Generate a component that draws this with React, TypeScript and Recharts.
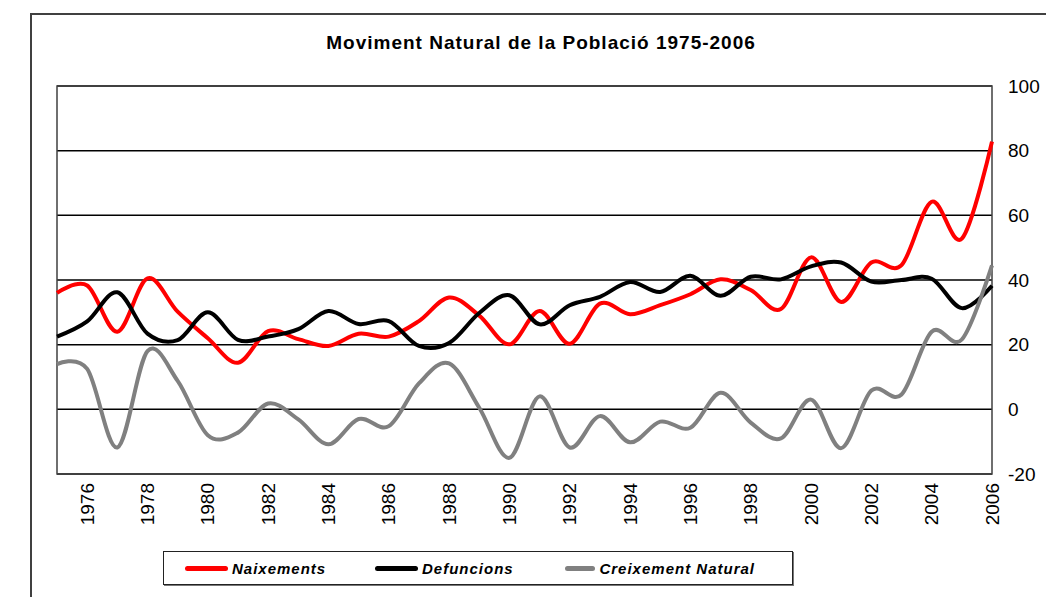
import React from "react";
import { LineChart, Line, XAxis, YAxis, CartesianGrid, Legend, ReferenceArea } from "recharts";

// values per year
const years = [
  1975, 1976, 1977, 1978, 1979, 1980, 1981, 1982, 1983, 1984, 1985, 1986, 1987, 1988, 1989, 1990,
  1991, 1992, 1993, 1994, 1995, 1996, 1997, 1998, 1999, 2000, 2001, 2002, 2003, 2004, 2005, 2006,
];
const naixements = [
  36, 38.3, 24, 40.5, 30.2, 22, 14.4, 24.2, 21.7, 19.6, 23.4, 22.5, 27.3, 34.6, 29, 20.1,
  30.4, 20.3, 32.7, 29.4, 32.2, 35.6, 40.2, 36.9, 31, 47, 33.2, 45.4, 44.6, 64.2, 52.8, 82.8,
];
const defuncions = [
  22.5, 27.2, 36.2, 23.4, 21.4, 30, 21.5, 22.5, 24.8, 30.4, 26.4, 27.3, 19.6, 20.5, 29.8, 35.3,
  26.3, 32.2, 34.8, 39.4, 36.3, 41.3, 35.1, 41, 40.2, 44.2, 45.4, 39.5, 40, 40.4, 31.3, 38.2,
];
const creixement = [
  14, 12.5, -11.8, 18, 8.8, -8, -7.2, 1.8, -3.1, -10.8, -3, -5.2, 8, 14.2, 0.5, -15,
  4, -11.8, -2.1, -10.2, -3.8, -5.7, 5.1, -4.1, -9, 3, -12, 5.8, 4.6, 24, 21.6, 44.5,
];
const yTicks = [-20, 0, 20, 40, 60, 80, 100];
const labelYears = [1976, 1978, 1980, 1982, 1984, 1986, 1988, 1990, 1992, 1994, 1996, 1998, 2000, 2002, 2004, 2006];
const legendOrder = ["Naixements", "Defuncions", "Creixement Natural"];

const data = years.map((year, i) => ({
  year,
  naixements: naixements[i],
  defuncions: defuncions[i],
  creixement: creixement[i],
}));

const FONT = "'Liberation Sans', Arial, sans-serif";

// Catmull-Rom style smoothing, close to the spreadsheet's "smoothed line"
function smoothCurve(context: any) {
  const k = 1 / 6;
  let x0 = NaN, y0 = NaN, x1 = NaN, y1 = NaN, x2 = NaN, y2 = NaN;
  let pt = 0;
  let line = NaN;
  const emit = (x: number, y: number) => {
    context.bezierCurveTo(x1 + k * (x2 - x0), y1 + k * (y2 - y0), x2 + k * (x1 - x), y2 + k * (y1 - y), x2, y2);
  };
  return {
    areaStart() { line = 0; },
    areaEnd() { line = NaN; },
    lineStart() { x0 = x1 = x2 = y0 = y1 = y2 = NaN; pt = 0; },
    lineEnd() {
      if (pt === 2) context.lineTo(x2, y2);
      else if (pt === 3) emit(x1, y1);
      if (line || (line !== 0 && pt === 1)) context.closePath();
      line = 1 - line;
    },
    point(x: number, y: number) {
      x = +x; y = +y;
      if (pt === 0) {
        pt = 1;
        if (line) context.lineTo(x, y); else context.moveTo(x, y);
      } else if (pt === 1) {
        pt = 2; x1 = x; y1 = y;
      } else {
        pt = 3; emit(x, y);
      }
      x0 = x1; x1 = x2; x2 = x;
      y0 = y1; y1 = y2; y2 = y;
    },
  };
}

function YearTick({ x, y, payload }: any) {
  if (!labelYears.includes(payload.value)) return <g />;
  return (
    <g transform={`translate(${x},${y})`}>
      <text transform="rotate(-90)" x={-9} dy="0.35em" textAnchor="end" fontSize={19} fill="#000" fontFamily={FONT}>
        {payload.value}
      </text>
    </g>
  );
}

function ChartLegend({ payload }: any) {
  const items = [...(payload || [])].sort((a: any, b: any) => legendOrder.indexOf(a.value) - legendOrder.indexOf(b.value));
  return (
    <div
      style={{
        width: 630,
        height: 34,
        boxSizing: "border-box",
        border: "1px solid #222",
        boxShadow: "1px 1px 0 #777",
        background: "#fff",
        display: "flex",
        alignItems: "center",
        paddingLeft: 21,
        fontFamily: FONT,
      }}
    >
      {items.map((entry: any) => (
        <div key={entry.value} style={{ width: 190, display: "flex", alignItems: "center" }}>
          <span style={{ width: 43, height: 5, borderRadius: 3, background: entry.color, display: "inline-block" }} />
          <span style={{ marginLeft: 4, fontSize: 15, fontWeight: "bold", fontStyle: "italic", letterSpacing: 1, whiteSpace: "nowrap" }}>
            {entry.value}
          </span>
        </div>
      ))}
    </div>
  );
}

export default function App() {
  return (
    <div style={{ position: "absolute", left: 0, top: 0, width: 1046, height: 597, background: "#fff", fontFamily: FONT }}>
      <div
        style={{
          position: "absolute",
          left: 30,
          top: 13,
          width: 1016,
          height: 584,
          borderTop: "2px solid #404040",
          borderLeft: "2px solid #404040",
          boxSizing: "border-box",
        }}
      />
      <div
        style={{
          position: "absolute",
          left: 36,
          top: 32,
          width: 1010,
          lineHeight: "22px",
          textAlign: "center",
          fontSize: 19,
          fontWeight: "bold",
          letterSpacing: 1,
        }}
      >
        Moviment Natural de la Població 1975-2006
      </div>
      <LineChart width={1046} height={597} data={data} margin={{ top: 86, right: 0, bottom: 0, left: 57 }}>
        <CartesianGrid vertical={false} stroke="#000" strokeWidth={1.5} />
        <ReferenceArea x1={1975} x2={2006} y1={-20} y2={100} fill="none" stroke="#404040" strokeWidth={1.5} />
        <XAxis
          dataKey="year"
          interval={0}
          height={123}
          axisLine={false}
          tickLine={false}
          tickSize={0}
          tickMargin={0}
          tick={(p: any) => <YearTick {...p} />}
        />
        <YAxis
          orientation="right"
          domain={[-20, 100]}
          ticks={yTicks}
          width={54}
          axisLine={false}
          tickLine={false}
          tickSize={0}
          tickMargin={16}
          tick={{ fontSize: 19, fill: "#000", fontFamily: FONT }}
        />
        <Line type={smoothCurve as any} dataKey="naixements" name="Naixements" stroke="#ff0000" strokeWidth={4} dot={false} isAnimationActive={false} />
        <Line type={smoothCurve as any} dataKey="defuncions" name="Defuncions" stroke="#000000" strokeWidth={4} dot={false} isAnimationActive={false} />
        <Line type={smoothCurve as any} dataKey="creixement" name="Creixement Natural" stroke="#808080" strokeWidth={4} dot={false} isAnimationActive={false} />
        <Legend
          verticalAlign="middle"
          align="center"
          layout="horizontal"
          wrapperStyle={{ left: 163, top: 551, width: 630, height: 34 }}
          content={(props: any) => <ChartLegend {...props} />}
        />
      </LineChart>
    </div>
  );
}
